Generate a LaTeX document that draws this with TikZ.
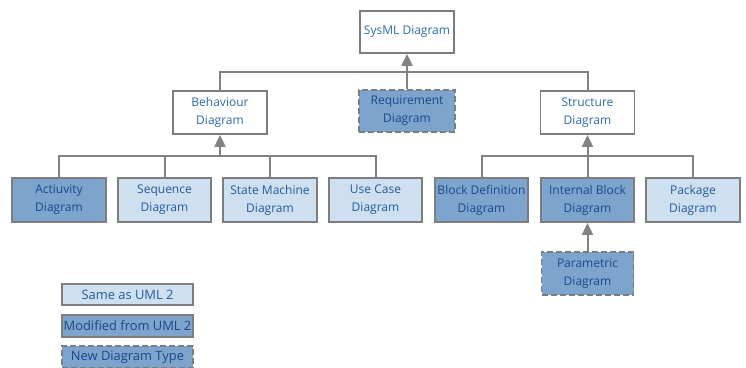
\documentclass[tikz,border=0pt]{standalone}
\usepackage{fontspec}
\setmainfont{Open Sans}
\usetikzlibrary{arrows.meta}
\definecolor{bord}{RGB}{125,125,125}
\definecolor{conncol}{RGB}{130,130,128}
\definecolor{darkfill}{RGB}{125,164,205}
\definecolor{lightfill}{RGB}{206,223,239}
\definecolor{txtw}{RGB}{45,105,175}
\definecolor{txtd}{RGB}{28,72,138}
\definecolor{txtl}{RGB}{35,90,160}
\tikzset{
  base/.style={draw=bord, line width=1.8pt, rectangle, align=center, inner sep=0pt,
    font=\fontsize{12}{18}\selectfont},
  plainbox/.style={base, fill=white, text=txtw},
  samebox/.style={base, fill=lightfill, text=txtl},
  modbox/.style={base, fill=darkfill, text=txtd},
  newbox/.style={base, fill=darkfill, text=txtd, dash pattern=on 6pt off 3pt},
  legendtxt/.style={font=\fontsize{12.9}{16}\selectfont},
  conn/.style={draw=conncol, line width=2pt},
  arr/.style={conn, -{Triangle[width=11pt,length=12pt]}},
}
\begin{document}
\begin{tikzpicture}[x=1pt,y=-1pt]
\useasboundingbox (0,0) rectangle (746,367);
\clip (0,0) rectangle (746,367);
\fill[white] (0,0) rectangle (746,367);
% top
\node[plainbox, minimum width=94pt, minimum height=42pt] (sys) at (407,32) {SysML Diagram};
\node[plainbox, minimum width=94pt, minimum height=43pt] (beh) at (220,112.5) {Behaviour\\Diagram};
\node[newbox, minimum width=96pt, minimum height=42pt] (req) at (407,111) {Requirement\\Diagram};
\node[plainbox, minimum width=94pt, minimum height=43pt] (str) at (587.5,112.5) {Structure\\Diagram};
% bottom row
\node[modbox, minimum width=94pt, minimum height=44pt] (act) at (59,200) {Actiuvity\\Diagram};
\node[samebox, minimum width=93pt, minimum height=44pt] (seq) at (164.5,200) {Sequence\\Diagram};
\node[samebox, minimum width=94pt, minimum height=44pt] (sm) at (270,200) {State Machine\\Diagram};
\node[samebox, minimum width=93pt, minimum height=44pt] (uc) at (375.5,200) {Use Case\\Diagram};
\node[modbox, minimum width=93pt, minimum height=44pt] (bdd) at (481.5,200) {Block Definition\\Diagram};
\node[modbox, minimum width=93pt, minimum height=44pt] (ibd) at (587.5,200) {Internal Block\\Diagram};
\node[samebox, minimum width=94pt, minimum height=44pt] (pkg) at (693,200) {Package\\Diagram};
\node[newbox, minimum width=92pt, minimum height=43pt] (par) at (587.5,273.5) {Parametric\\Diagram};
% legend
\node[samebox, legendtxt, minimum width=131pt, minimum height=21pt] (l1) at (127.5,294.5) {Same as UML 2};
\node[modbox, legendtxt, minimum width=131pt, minimum height=22pt] (l2) at (127.5,326) {Modified from UML 2};
\node[newbox, legendtxt, minimum width=131pt, minimum height=22pt] (l3) at (127.5,357) {New Diagram Type};
% connectors
\coordinate (b1) at (407,72);
\coordinate (b2) at (220,156);
\coordinate (b3) at (587.5,156);
\draw[conn] (beh.north) |- (b1);
\draw[conn] (str.north) |- (b1);
\draw[arr] (req.north) -- (sys.south);
\draw[conn] (act.north) |- (b2);
\draw[conn] (seq.north) |- (b2);
\draw[conn] (sm.north) |- (b2);
\draw[conn] (uc.north) |- (b2);
\draw[arr] (b2) -- (beh.south);
\draw[conn] (bdd.north) |- (b3);
\draw[conn] (pkg.north) |- (b3);
\draw[arr] (ibd.north) -- (str.south);
\draw[arr] (par.north) -- (ibd.south);
\end{tikzpicture}
\end{document}
